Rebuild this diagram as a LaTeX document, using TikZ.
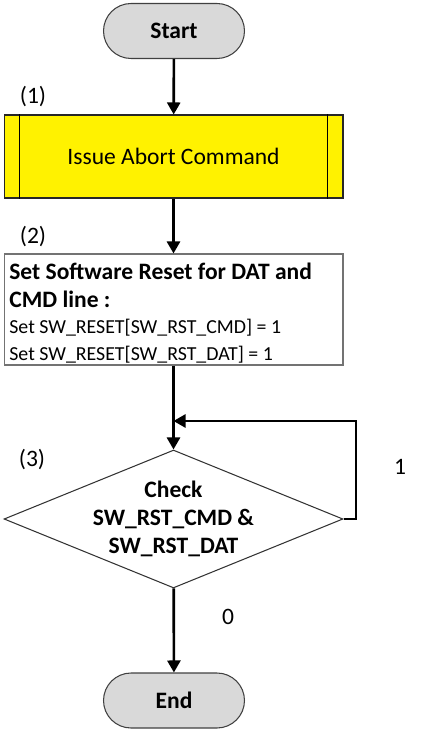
\documentclass[tikz,border=0pt]{standalone}
\usepackage{fontspec}
\setmainfont{Carlito}
\usetikzlibrary{shapes.geometric,arrows.meta}
\newcommand{\bigtxt}{\fontsize{13.4}{15.9}\selectfont}
\newcommand{\smalltxt}{\fontsize{11.3}{14.7}\selectfont}
\begin{document}
\begin{tikzpicture}[x=0.02cm,y=-0.02cm,
        terminal/.style={draw=black!75,fill=black!15,line width=0.6pt,rounded corners=0.55cm,
            minimum width=2.82cm,minimum height=1.1cm,inner sep=0pt,font=\bigtxt\bfseries},
        process/.style={draw=black!85,fill=yellow,line width=0.6pt,minimum width=6.78cm,
            minimum height=1.66cm,inner sep=0pt,font=\bigtxt},
        action/.style={draw=black!55,fill=white,line width=0.6pt,minimum width=6.78cm,
            minimum height=2.22cm,inner sep=0pt},
        decision/.style={diamond,draw=black!80,line width=0.6pt,minimum width=6.78cm,
            minimum height=2.76cm,inner sep=0pt},
        flow/.style={line width=1.5pt,-{Triangle[length=0.24cm,width=0.26cm]}}]
            \useasboundingbox (0,0) rectangle (432,732);
            \node[terminal] (start) at (174,31) {Start};
            \node[process] (abort) at (173.5,156.5) {Issue Abort Command};
            \draw[line width=0.6pt] ([xshift=0.32cm]abort.north west) -- ([xshift=0.32cm]abort.south west);
            \draw[line width=0.6pt] ([xshift=-0.32cm]abort.north east) -- ([xshift=-0.32cm]abort.south east);
            \node[action] (reset) at (173.5,309.5) {};
            \node[anchor=north west,align=left,inner sep=0pt] (resettxt) at (9,263)
                {{\bigtxt\bfseries Set Software Reset for DAT and}\\[3.5pt]
                 {\bigtxt\bfseries CMD line :}\\[3pt]
                 {\smalltxt Set SW\_RESET[SW\_RST\_CMD] = 1}\\[3.5pt]
                 {\smalltxt Set SW\_RESET[SW\_RST\_DAT] = 1}};
            \node[decision] (check) at (173.5,519) {};
            \node[align=center,font=\bigtxt\bfseries] (checktxt) at (check.center)
                {Check\\SW\_RST\_CMD \&\\SW\_RST\_DAT};
            \node[terminal] (end) at (174,700.5) {End};
            \node[font=\bigtxt] (n1) at (33,97) {(1)};
            \node[font=\bigtxt] (n2) at (33,237) {(2)};
            \node[font=\bigtxt] (n3) at (32,460) {(3)};
            \node[font=\bigtxt] (yes) at (400,467) {1};
            \node[font=\bigtxt] (no) at (228,617) {0};
            \coordinate (loop) at (356,421);
            \draw[flow] (start) -- (abort);
            \draw[flow] (abort) -- (reset);
            \draw[flow] (reset) -- (check);
            \draw[flow] (check.east) -| (loop) -- (loop -| check.north);
            \draw[flow] (check) -- (end);
\end{tikzpicture}
\end{document}
